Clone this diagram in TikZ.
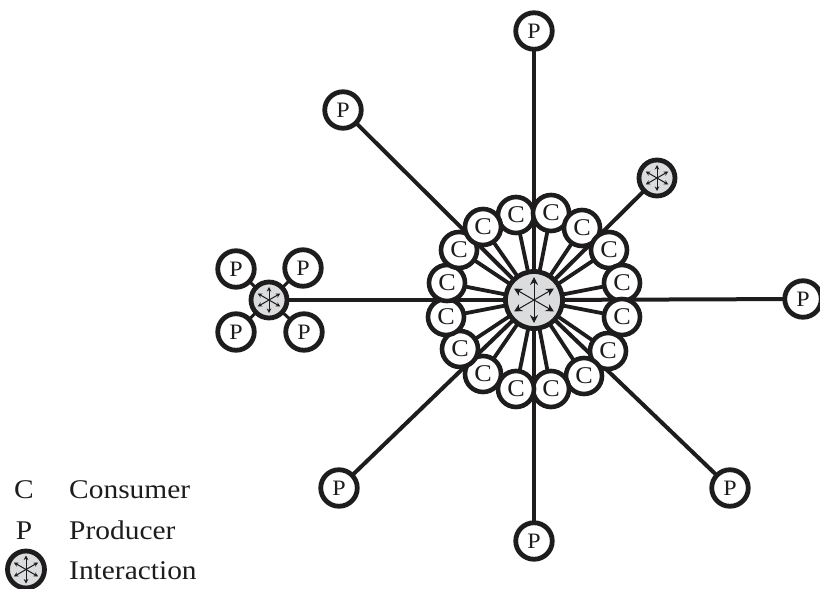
\documentclass[tikz,border=0pt]{standalone}
\usepackage{fontspec}
\setmainfont[FakeStretch=1.09]{Liberation Serif}
\usetikzlibrary{arrows.meta,calc}
\definecolor{hubgray}{RGB}{218,220,222}
\definecolor{ink}{RGB}{30,28,28}
\tikzset{
  x=1pt,y=-1pt,
  cnode/.style={circle,draw=ink,line width=4.6pt,fill=white,minimum size=36pt,inner sep=0pt,text=ink,font=\fontsize{24}{24}\selectfont},
  pnode/.style={circle,draw=ink,line width=4.8pt,fill=white,minimum size=36.5pt,inner sep=0pt,text=ink,font=\fontsize{22}{22}\selectfont},
  bighub/.style={circle,draw=ink,line width=4.8pt,fill=hubgray,minimum size=57pt,inner sep=0pt},
  smallhub/.style={circle,draw=ink,line width=4.8pt,fill=hubgray,minimum size=36pt,inner sep=0pt},
  spoke/.style={draw=ink,line width=3.8pt},
  longline/.style={draw=ink,line width=4pt},
  thinline/.style={draw=ink,line width=3pt},
  hubarrow/.style={draw=ink,line width=1pt,{Stealth[length=#1,width=#1]}-{Stealth[length=#1,width=#1]}},
  legend/.style={anchor=base west,inner sep=0pt,text=ink,font=\fontsize{27}{27}\selectfont},
  legendkey/.style={anchor=base,inner sep=0pt,text=ink,font=\fontsize{27}{27}\selectfont}
}
\newcommand{\hubarrows}[3]{%
  \foreach \ang in {90,30,150}{%
    \draw[hubarrow=#3] ($(#1)+(\ang:#2)$) -- ($(#1)+(\ang+180:#2)$);%
  }%
}
\begin{document}
\begin{tikzpicture}
\useasboundingbox (0,0) rectangle (820,589);
\coordinate (hubpos) at (534,300);
\coordinate (p1) at (534,31);
\coordinate (p2) at (343,110);
\coordinate (p3) at (803,299);
\coordinate (p4) at (339,488);
\coordinate (p5) at (730,488);
\coordinate (p6) at (534,541);
\coordinate (h1) at (657,178);
\coordinate (h2) at (269,300);
\foreach \t in {p1,p2,p3,p4,p5,p6,h1,h2}{\draw[longline] (hubpos) -- (\t);}
\foreach \n/\x/\y in {c1/516/215,c2/551/213,c3/582/228,c4/609/250,c5/622/283,c6/622/317,c7/608/351,c8/584/376,c9/551/389,c10/516/389,c11/483/374,c12/460/349,c13/446/317,c14/447/283,c15/459/250,c16/483/227}{
  \coordinate (\n) at (\x,\y);
  \draw[spoke] (hubpos) -- (\n);
}
\foreach \n in {c1,c2,c3,c4,c5,c6,c7,c8,c9,c10,c11,c12,c13,c14,c15,c16}{
  \node[cnode] (\n n) at (\n) {C};
}
\node[bighub] (hub) at (hubpos) {};
\hubarrows{hub}{23}{8pt}
\node[pnode] (P1) at (p1) {P};
\node[pnode] (P2) at (p2) {P};
\node[pnode] (P3) at (p3) {P};
\node[pnode] (P4) at (p4) {P};
\node[pnode] (P5) at (p5) {P};
\node[pnode] (P6) at (p6) {P};
\coordinate (q1) at (236,269);
\coordinate (q2) at (303,268);
\coordinate (q3) at (236,332);
\coordinate (q4) at (304,332);
\foreach \q in {q1,q2,q3,q4}{\draw[thinline] (h2) -- (\q);}
\node[smallhub] (H1) at (h1) {};
\hubarrows{H1}{13}{4.5pt}
\node[smallhub] (H2) at (h2) {};
\hubarrows{H2}{13}{4.5pt}
\node[pnode] (Q1) at (q1) {P};
\node[pnode] (Q2) at (q2) {P};
\node[pnode] (Q3) at (q3) {P};
\node[pnode] (Q4) at (q4) {P};
\node[legendkey] (lc) at (24,498) {C};
\node[legend] (lct) at (69,498) {Consumer};
\node[legendkey] (lp) at (24,539) {P};
\node[legend] (lpt) at (69,539) {Producer};
\node[smallhub,minimum size=37pt] (li) at (26,569.5) {};
\hubarrows{li}{14}{4.5pt}
\node[legend] (lit) at (69,579) {Interaction};
\end{tikzpicture}
\end{document}
